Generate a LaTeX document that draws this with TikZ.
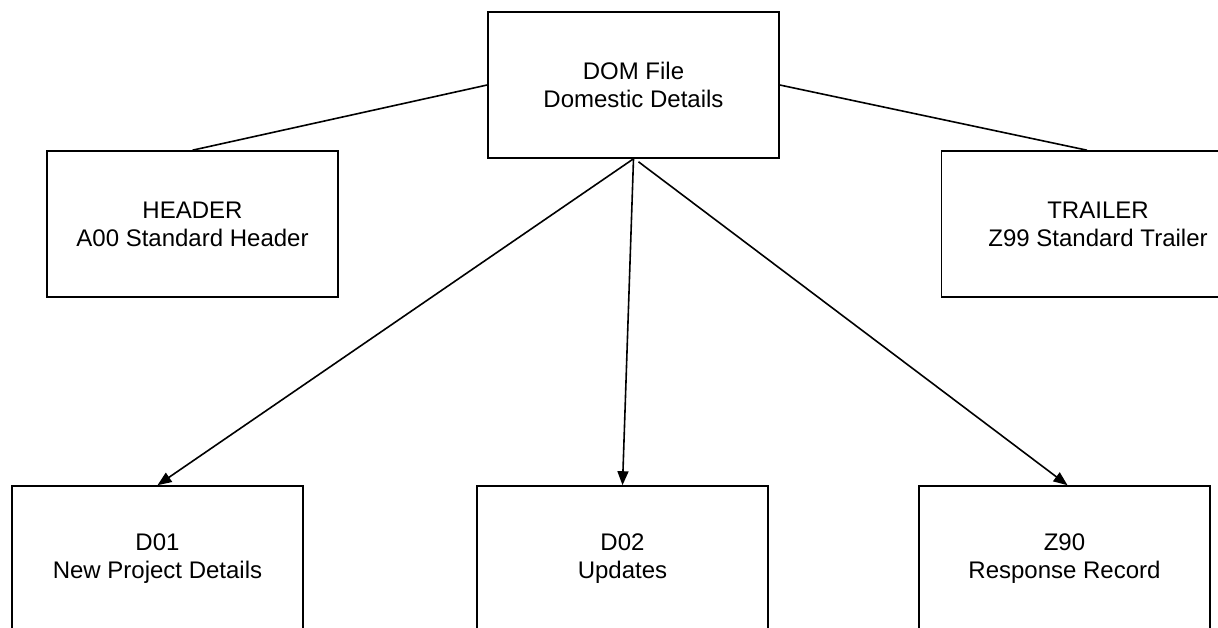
\documentclass[tikz,border=0pt]{standalone}
\usepackage{fontspec}
\setmainfont{Liberation Sans}
\usetikzlibrary{arrows.meta}
\begin{document}
\begin{tikzpicture}[x=1pt,y=-1pt,
  txt/.style={align=center, font=\fontsize{24}{28}\selectfont},
  box/.style={txt, draw, line width=1.6pt, rectangle, minimum width=291pt, minimum height=146pt, inner sep=0pt},
  link/.style={line width=1.6pt},
  arr/.style={line width=1.6pt, -{Triangle[length=14pt,width=11pt]}}]
\useasboundingbox (0,0) rectangle (1218,628);
\clip (0,0) rectangle (1218,628);
\node[box] (dom) at (633.5,85) {DOM File\\Domestic Details};
\node[box] (header) at (192.5,224) {HEADER\\A00 Standard Header};
\node[box] (trailer) at (1087,224) {};
\node[txt, inner sep=0pt] (trailertext) at (1098,224) {TRAILER\\Z99 Standard Trailer};
\node[box] (d01) at (157.5,559) {D01\\New Project Details};
\node[box] (d02) at (622.5,559) {D02\\Updates};
\node[box] (z90) at (1064.5,559) {Z90\\Response Record};
\draw[link] (dom.west) -- (header.north);
\draw[link] (dom.east) -- (trailer.north);
\draw[arr] (dom.south) -- (d01.north);
\draw[arr] (dom.south) -- (d02.north);
\draw[arr] ([xshift=5pt,yshift=-3pt]dom.south) -- ([xshift=3pt]z90.north);
\end{tikzpicture}
\end{document}
